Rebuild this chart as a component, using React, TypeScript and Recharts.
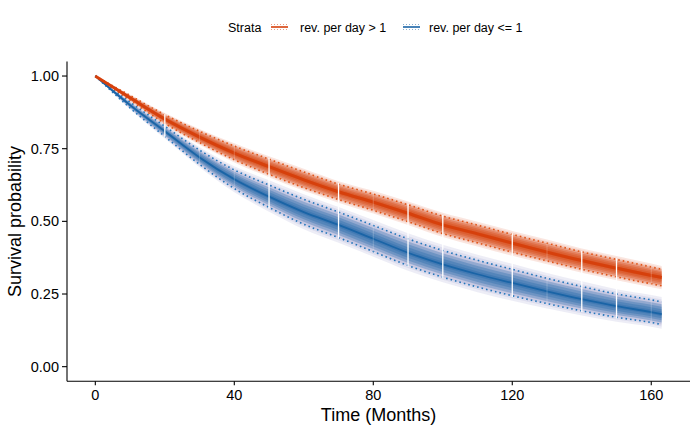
import {
  Area,
  ComposedChart,
  Line,
  ReferenceLine,
  XAxis,
  YAxis,
} from "recharts"

/*
 * Kaplan-Meier style survival curves for two strata with fuzzy
 * confidence bands, dotted CI bounds and white gap marks.
 */

const RED = "#d6400c"
const RED_DOT = "#e0561a"
const BLUE = "#1a64a6"
const BLUE_DOT = "#2476bb"
const BLUE_FRINGE = "#7377b6"
const FONT = '"Liberation Sans", Arial, Helvetica, sans-serif'

const times = [0, 10, 20, 30, 40, 50, 60, 70, 80, 90, 100, 110, 120, 130, 140, 150, 160, 163]

// rev. per day > 1
const redEst = [1, 0.925, 0.852, 0.79, 0.735, 0.688, 0.643, 0.602, 0.566, 0.528, 0.488, 0.457, 0.425, 0.394, 0.365, 0.339, 0.314, 0.307]
const redHi = [1, 0.933, 0.867, 0.81, 0.759, 0.714, 0.67, 0.628, 0.594, 0.557, 0.518, 0.487, 0.455, 0.425, 0.395, 0.369, 0.343, 0.335]
const redLo = [1, 0.917, 0.837, 0.771, 0.712, 0.662, 0.616, 0.575, 0.538, 0.499, 0.458, 0.426, 0.394, 0.364, 0.335, 0.309, 0.285, 0.278]

// rev. per day <= 1
const blueEst = [1, 0.9, 0.81, 0.72, 0.645, 0.585, 0.532, 0.488, 0.44, 0.392, 0.352, 0.318, 0.288, 0.259, 0.232, 0.208, 0.188, 0.181]
const blueHi = [1, 0.91, 0.827, 0.745, 0.677, 0.625, 0.576, 0.532, 0.486, 0.44, 0.4, 0.366, 0.335, 0.304, 0.276, 0.25, 0.23, 0.223]
const blueLo = [1, 0.89, 0.792, 0.696, 0.613, 0.548, 0.49, 0.444, 0.396, 0.348, 0.308, 0.274, 0.244, 0.217, 0.192, 0.17, 0.152, 0.145]

const gapTimes = [20, 50, 70, 90, 100, 120, 140, 150]
const faintGapTimes = [30, 40, 80, 130, 160]

const xTicks = [0, 40, 80, 120, 160]
const yTicks = [0, 0.25, 0.5, 0.75, 1]

const strataLabels = ["rev. per day > 1", "rev. per day <= 1"]

interface Row {
  t: number
  rE: number
  rH: number
  rL: number
  bE: number
  bH: number
  bL: number
}

const rows: Row[] = times.map((t, i) => ({
  t,
  rE: redEst[i],
  rH: redHi[i],
  rL: redLo[i],
  bE: blueEst[i],
  bH: blueHi[i],
  bL: blueLo[i],
}))

const rowAt = (t: number) => rows.find((r) => r.t === t)!

// nested band widths, relative to the CI half width
const LAYERS = [1.4, 1.2, 1.0, 0.8, 0.6, 0.4, 0.2]

function bandKey(prefix: "r" | "b", f: number) {
  return (d: Row) => {
    const e = prefix === "r" ? d.rE : d.bE
    const h = prefix === "r" ? d.rH : d.bH
    const l = prefix === "r" ? d.rL : d.bL
    return [e - f * (e - l), e + f * (h - e)]
  }
}

function LegendKey({ x, color }: { x: number; color: string }) {
  return (
    <g>
      <line x1={x} x2={x + 17} y1={24.5} y2={24.5} stroke={color} strokeWidth={1} strokeDasharray="1 2" opacity={0.5} />
      <line x1={x} x2={x + 17} y1={27} y2={27} stroke={color} strokeWidth={1.6} />
      <line x1={x} x2={x + 17} y1={29.5} y2={29.5} stroke={color} strokeWidth={1} strokeDasharray="1 2" opacity={0.5} />
    </g>
  )
}

export default function App() {
  return (
    <div style={{ position: "absolute", left: 0, top: 0, width: 700, height: 432, background: "#fff" }}>
      <svg width={700} height={50} style={{ position: "absolute", left: 0, top: 0 }}>
        <text x={228} y={31.5} fontSize={12.5} fontFamily={FONT} fill="#000">
          Strata
        </text>
        <LegendKey x={271} color={RED} />
        <text x={300} y={31.5} fontSize={12.5} fontFamily={FONT} fill="#000">
          {strataLabels[0]}
        </text>
        <LegendKey x={403} color={BLUE} />
        <text x={429} y={31.5} fontSize={12.5} fontFamily={FONT} fill="#000">
          {strataLabels[1]}
        </text>
      </svg>
      <div style={{ position: "absolute", left: 0, top: 0 }}>
        <ComposedChart
          width={700}
          height={432}
          data={rows}
          margin={{ top: 61.5, right: 10, bottom: 0, left: 0 }}
        >
          <XAxis
            dataKey="t"
            type="number"
            domain={[-8.15, 171.15]}
            ticks={xTicks}
            allowDataOverflow
            height={50.8}
            tickSize={4}
            tickMargin={5}
            stroke="#000"
            strokeWidth={1.1}
            tick={{ fill: "#000", fontSize: 14.5, fontFamily: FONT }}
            label={{
              content: () => (
                <text x={378.5} y={420.5} textAnchor="middle" fontSize={18} fontFamily={FONT} fill="#000">
                  Time (Months)
                </text>
              ),
            }}
          />
          <YAxis
            type="number"
            domain={[-0.05, 1.05]}
            ticks={yTicks}
            allowDataOverflow
            width={67}
            tickSize={5}
            tickMargin={3}
            stroke="#000"
            strokeWidth={1.1}
            tickFormatter={(v: number) => v.toFixed(2)}
            tick={{ fill: "#000", fontSize: 14.5, fontFamily: FONT }}
            label={{
              content: () => (
                <text
                  x={20.5}
                  y={221.5}
                  transform="rotate(-90 20.5 221.5)"
                  textAnchor="middle"
                  fontSize={18}
                  fontFamily={FONT}
                  fill="#000"
                >
                  Survival probability
                </text>
              ),
            }}
          />

          {LAYERS.map((f, i) => (
            <Area
              key={`b-${f}`}
              type="monotone"
              dataKey={bandKey("b", f)}
              stroke="none"
              fill={i < 3 ? BLUE_FRINGE : BLUE}
              fillOpacity={i < 2 ? 0.13 : i < 3 ? 0.2 : 0.3}
              isAnimationActive={false}
              activeDot={false}
            />
          ))}
          {LAYERS.map((f, i) => (
            <Area
              key={`r-${f}`}
              type="monotone"
              dataKey={bandKey("r", f)}
              stroke="none"
              fill={RED}
              fillOpacity={i < 2 ? 0.13 : 0.32}
              isAnimationActive={false}
              activeDot={false}
            />
          ))}

          <Line type="monotone" dataKey="bH" stroke={BLUE_DOT} strokeWidth={1.6} strokeDasharray="1.6 3" dot={false} isAnimationActive={false} />
          <Line type="monotone" dataKey="bL" stroke={BLUE_DOT} strokeWidth={1.6} strokeDasharray="1.6 3" dot={false} isAnimationActive={false} />
          <Line type="monotone" dataKey="rH" stroke={RED_DOT} strokeWidth={1.6} strokeDasharray="1.6 3" dot={false} isAnimationActive={false} />
          <Line type="monotone" dataKey="rL" stroke={RED_DOT} strokeWidth={1.6} strokeDasharray="1.6 3" dot={false} isAnimationActive={false} />
          <Line type="monotone" dataKey="bE" stroke={BLUE} strokeWidth={1.8} dot={false} isAnimationActive={false} />
          <Line type="monotone" dataKey="rE" stroke={RED} strokeWidth={3} dot={false} isAnimationActive={false} />

          {gapTimes.map((t) => (
            <ReferenceLine
              key={`g-${t}`}
              segment={[
                { x: t, y: rowAt(t).bL - 0.004 },
                { x: t, y: rowAt(t).rH + 0.004 },
              ]}
              stroke="#ffffff"
              strokeWidth={1.3}
            />
          ))}
          {faintGapTimes.map((t) => (
            <ReferenceLine
              key={`fg-${t}`}
              segment={[
                { x: t, y: rowAt(t).bL - 0.004 },
                { x: t, y: rowAt(t).rH + 0.004 },
              ]}
              stroke="#ffffff"
              strokeOpacity={0.22}
              strokeWidth={1}
            />
          ))}
        </ComposedChart>
      </div>
    </div>
  )
}
